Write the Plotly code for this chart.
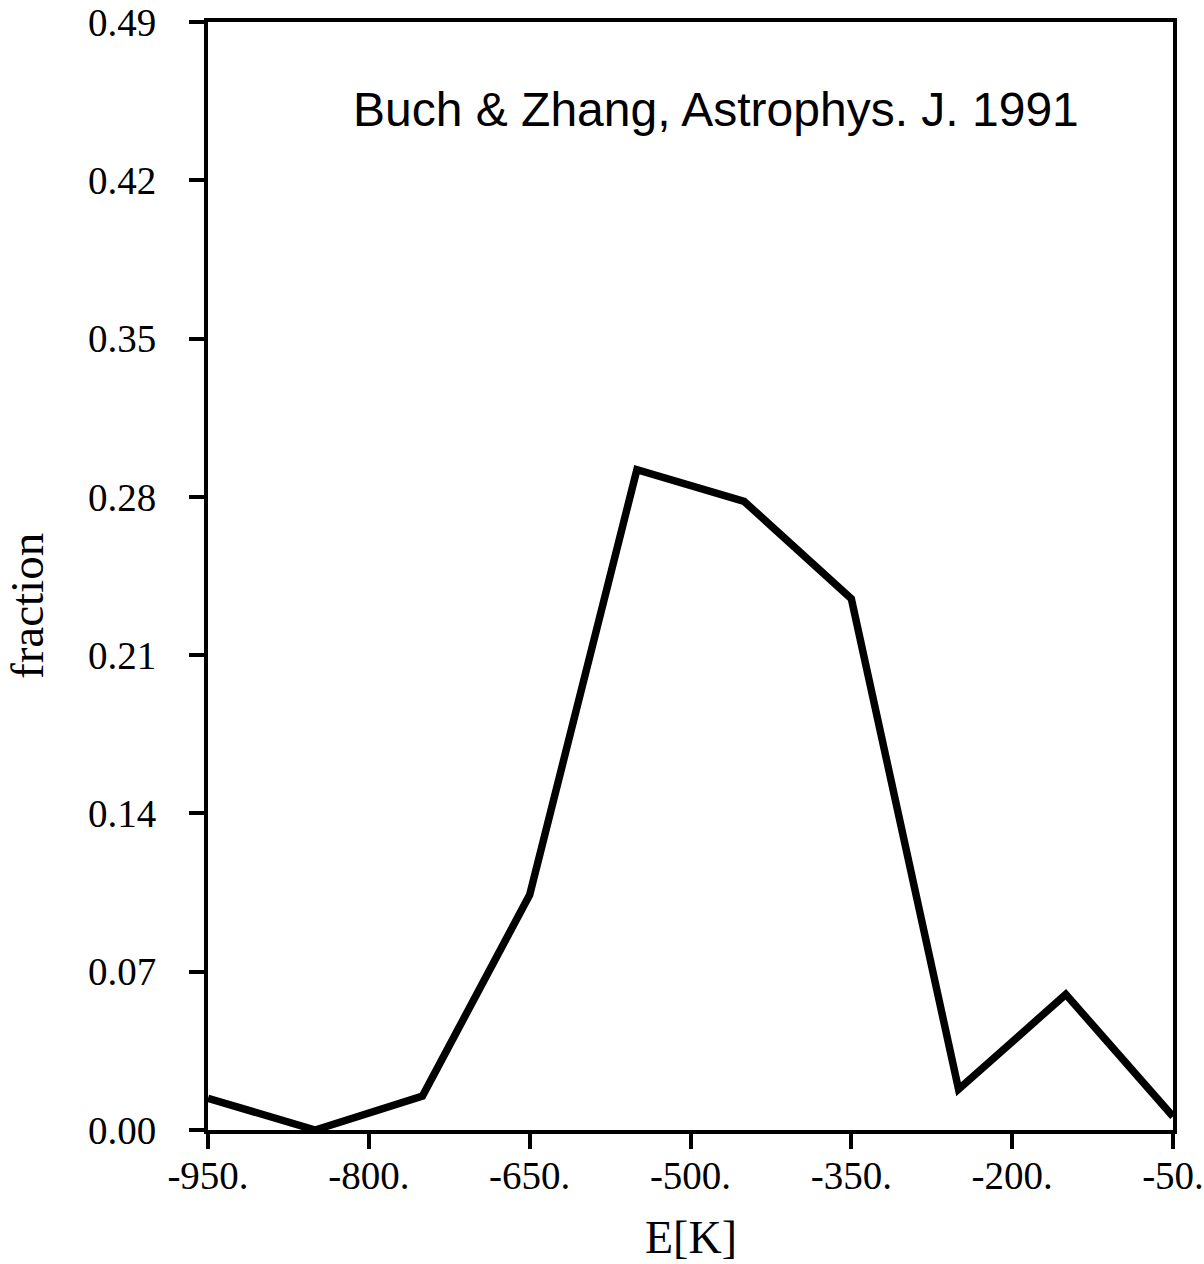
import plotly.graph_objects as go

# Energy distribution (binned) and the fraction in each bin
energy_K = [-950, -850, -750, -650, -550, -450, -350, -250, -150, -50]
fraction = [0.014, 0.0, 0.015, 0.104, 0.292, 0.278, 0.235, 0.018, 0.060, 0.006]

x_ticks = [-950, -800, -650, -500, -350, -200, -50]
x_tick_labels = ["-950.", "-800.", "-650.", "-500.", "-350.", "-200.", "-50."]
y_ticks = [0.00, 0.07, 0.14, 0.21, 0.28, 0.35, 0.42, 0.49]
y_tick_labels = ["0.00", "0.07", "0.14", "0.21", "0.28", "0.35", "0.42", "0.49"]

serif = "Liberation Serif, Times New Roman, serif"
tick_font = dict(family=serif, size=39, color="black")

fig = go.Figure()
fig.add_trace(go.Scatter(
    x=energy_K, y=fraction, mode="lines",
    line=dict(color="black", width=7.5),
    cliponaxis=False, showlegend=False,
))

axis_style = dict(
    showgrid=False, zeroline=False, automargin=False,
    showline=True, linecolor="black", linewidth=4, mirror=True,
    ticks="outside", ticklen=15, tickwidth=4, tickcolor="black",
    tickfont=tick_font,
)

fig.update_layout(
    width=1204, height=1264,
    margin=dict(l=208, r=31, t=22, b=134),
    paper_bgcolor="white", plot_bgcolor="white",
    font=dict(family=serif, size=39, color="black"),
    xaxis=dict(range=[-950, -50], tickvals=x_ticks, ticktext=x_tick_labels,
               ticklabelstandoff=-7, **axis_style),
    yaxis=dict(range=[0, 0.49], tickvals=y_ticks, ticktext=y_tick_labels,
               ticklabelstandoff=25, **axis_style),
    annotations=[
        dict(text="E[K]", xref="paper", yref="paper", x=0.5, y=-0.097,
             xanchor="center", yanchor="middle", showarrow=False,
             font=dict(family=serif, size=46, color="black")),
        dict(text="fraction", xref="paper", yref="paper", x=-0.1875, y=0.473,
             xanchor="center", yanchor="middle", showarrow=False, textangle=-90,
             font=dict(family=serif, size=47, color="black")),
        dict(text="Buch & Zhang, Astrophys. J. 1991", xref="paper", yref="paper",
             x=0.5264, y=0.9206, xanchor="center", yanchor="middle", showarrow=False,
             font=dict(family="Liberation Sans, Arial, sans-serif", size=48, color="black")),
    ],
)

fig.write_html("out.html")
